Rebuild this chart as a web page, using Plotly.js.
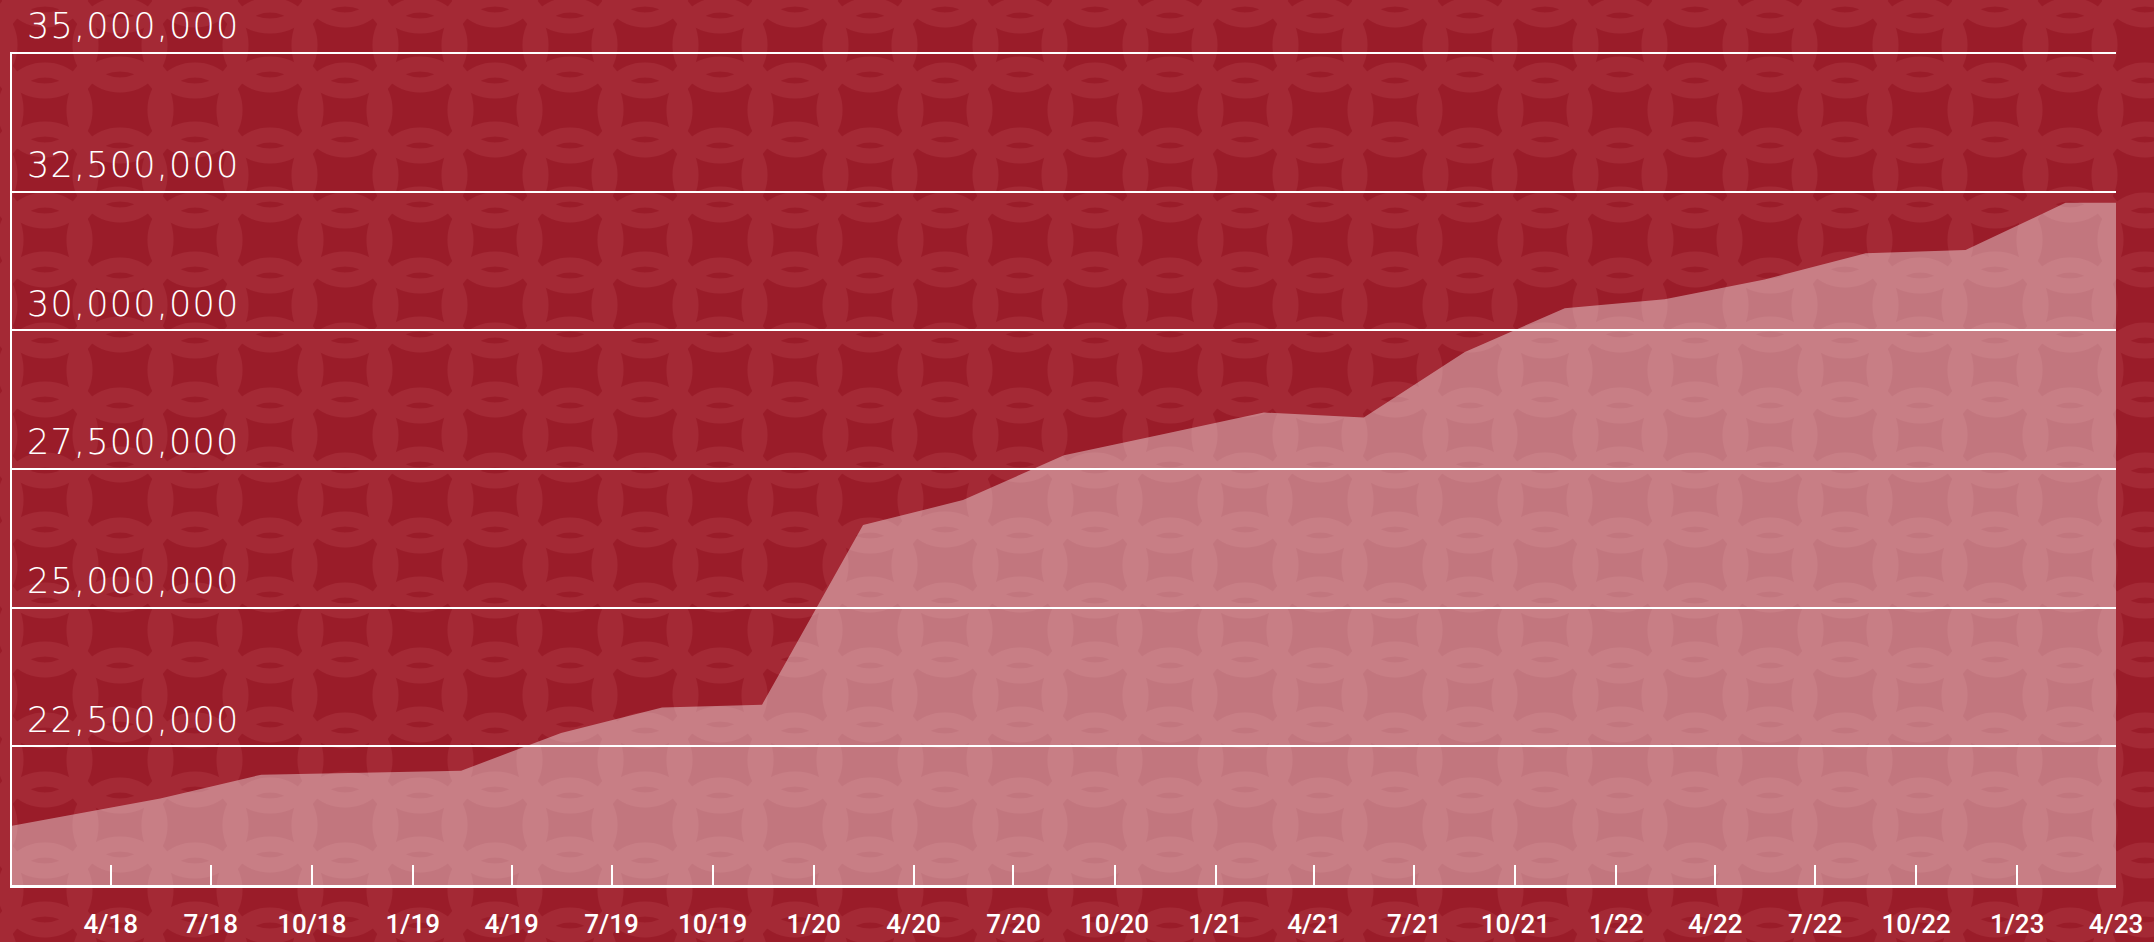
<!DOCTYPE html>
<html>
<head>
<meta charset="utf-8">
<script src="https://cdn.plot.ly/plotly-3.0.1.min.js"></script>
<style>
  html, body { margin: 0; padding: 0; width: 2154px; height: 942px; overflow: hidden; }
  body {
    background-color: #9a1c29;
    background-image: url("data:image/svg+xml;utf8,<svg xmlns='http://www.w3.org/2000/svg' width='150' height='130'><g fill='none' stroke='%23a42935' stroke-width='15'><circle cx='0' cy='0' r='46'/><circle cx='150' cy='0' r='46'/><circle cx='0' cy='130' r='46'/><circle cx='150' cy='130' r='46'/><circle cx='75' cy='65' r='46'/><circle cx='75' cy='0' r='40'/><circle cx='75' cy='130' r='40'/><circle cx='0' cy='65' r='40'/><circle cx='150' cy='65' r='40'/></g></svg>");
    background-size: 150px 130px;
    background-position: -30px -20px;
  }
  #chart { width: 2154px; height: 942px; }
  .y2tick text { letter-spacing: 1.2px; }
</style>
</head>
<body>
<div id="chart"></div>
<script>
// Data points
const dates = [
  '2018-01-01', '2018-05-16', '2018-08-16', '2018-11-15',
  '2019-02-14', '2019-05-16', '2019-08-16', '2019-11-15',
  '2020-02-15', '2020-05-16', '2020-08-16', '2020-11-15',
  '2021-02-14', '2021-05-16', '2021-08-16', '2021-11-15',
  '2022-02-14', '2022-05-16', '2022-08-16', '2022-11-15',
  '2023-02-14', '2023-04-01'
];
const values = [
  21070000, 21560000, 21990000, 22020000,
  22060000, 22740000, 23200000, 23250000,
  26490000, 26940000, 27750000, 28130000,
  28520000, 28430000, 29610000, 30400000,
  30560000, 30920000, 31390000, 31450000,
  32300000, 32300000
];

// X axis ticks
const xTickVals = [
  '2018-04-01', '2018-07-01', '2018-10-01', '2019-01-01', '2019-04-01', '2019-07-01', '2019-10-01',
  '2020-01-01', '2020-04-01', '2020-07-01', '2020-10-01', '2021-01-01', '2021-04-01', '2021-07-01',
  '2021-10-01', '2022-01-01', '2022-04-01', '2022-07-01', '2022-10-01', '2023-01-01', '2023-04-01'
];
const xTickText = [
  '4/18', '7/18', '10/18', '1/19', '4/19', '7/19', '10/19',
  '1/20', '4/20', '7/20', '10/20', '1/21', '4/21', '7/21',
  '10/21', '1/22', '4/22', '7/22', '10/22', '1/23', '4/23'
];

// Y axis ticks
const yTickVals = [22500000, 25000000, 27500000, 30000000, 32500000, 35000000];
const yTickText = ['22,500,000', '25,000,000', '27,500,000', '30,000,000', '32,500,000', '35,000,000'];

const yRange = [20000000, 35020000];

// Main filled area (primary y axis: gridlines + axis line)
const trace = {
  type: 'scatter',
  mode: 'lines',
  x: dates,
  y: values,
  xaxis: 'x',
  yaxis: 'y',
  fill: 'tozeroy',
  fillcolor: 'rgba(255,255,255,0.40)',
  line: { width: 0, color: 'rgba(255,255,255,0)' },
  hoverinfo: 'skip'
};
// Same series on the label axis, invisible (keeps the label axis drawn)
const labelTrace = {
  type: 'scatter',
  mode: 'lines',
  x: dates,
  y: values,
  xaxis: 'x',
  yaxis: 'y2',
  opacity: 0,
  line: { width: 0, color: 'rgba(0,0,0,0)' },
  hoverinfo: 'skip'
};

const layout = {
  width: 2154,
  height: 942,
  margin: { l: 12, r: 38, t: 52, b: 57, pad: 0 },
  paper_bgcolor: 'rgba(0,0,0,0)',
  plot_bgcolor: 'rgba(0,0,0,0)',
  showlegend: false,
  xaxis: {
    type: 'date',
    range: ['2018-01-01', '2023-04-01'],
    tickmode: 'array',
    tickvals: xTickVals,
    ticktext: xTickText,
    ticks: 'inside',
    ticklen: 20,
    tickwidth: 2,
    tickcolor: '#ffffff',
    showgrid: false,
    zeroline: false,
    showline: true,
    linecolor: '#ffffff',
    linewidth: 3,
    ticklabelstandoff: 14,
    tickfont: { family: 'Roboto, sans-serif', size: 26, color: '#ffffff', weight: 500 },
    fixedrange: true
  },
  yaxis: {
    range: yRange,
    tickmode: 'array',
    tickvals: yTickVals,
    showticklabels: false,
    ticks: '',
    showgrid: true,
    gridcolor: '#ffffff',
    gridwidth: 2,
    zeroline: false,
    showline: true,
    linecolor: '#ffffff',
    linewidth: 2,
    fixedrange: true
  },
  yaxis2: {
    overlaying: 'y',
    side: 'right',
    anchor: 'free',
    position: 0,
    range: yRange,
    tickmode: 'array',
    tickvals: yTickVals,
    ticktext: yTickText,
    ticks: '',
    showgrid: false,
    zeroline: false,
    showline: false,
    ticklabelstandoff: 14,
    ticklabelshift: -27,
    tickfont: { family: 'DejaVu Sans, sans-serif', size: 35, color: '#ffffff', weight: 200 },
    fixedrange: true
  }
};

Plotly.newPlot('chart', [trace, labelTrace], layout, { displayModeBar: false, staticPlot: true });
</script>
</body>
</html>
